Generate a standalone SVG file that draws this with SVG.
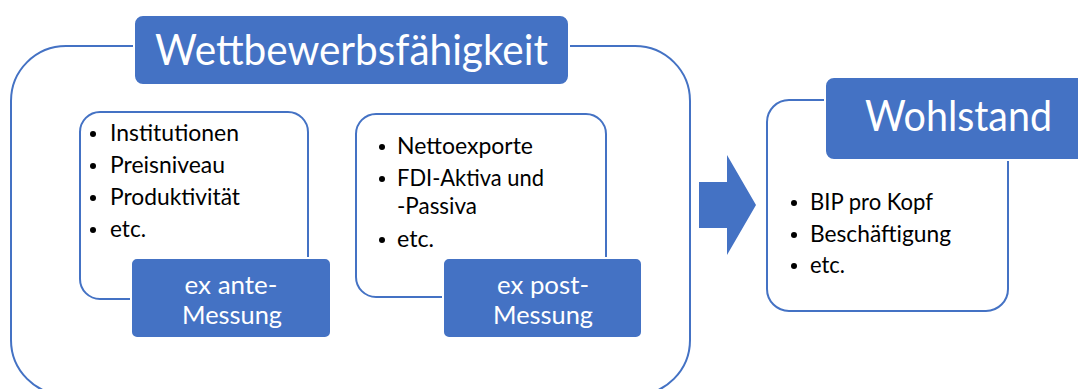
<svg xmlns="http://www.w3.org/2000/svg" width="1078" height="389" viewBox="0 0 1078 389">
<style>
.frame{fill:#fff;stroke:#4472C4;stroke-width:2}
.head{fill:#4472C4;stroke:#fff;stroke-width:2}
.ht{font-family:Lato,"Open Sans",sans-serif;fill:#fff;font-size:42px}
.lt{font-family:Lato,"Open Sans",sans-serif;fill:#fff;font-size:25px;text-anchor:middle}
.bt{font-family:Lato,"Open Sans",sans-serif;fill:#000;font-size:23px}
.dot{fill:#000}
</style>
<rect width="1078" height="389" fill="#fff"/>
<g id="wettbewerbsfaehigkeit">
<rect class="frame" x="11" y="46" width="679" height="349" rx="55"/>
<rect class="head" x="134" y="15" width="435" height="70" rx="9"/>
<text class="ht" x="155" y="65" textLength="393" lengthAdjust="spacingAndGlyphs">Wettbewerbsfähigkeit</text>
</g>
<g id="exante">
<rect class="frame" x="80" y="112" width="228" height="187" rx="20"/>
<circle class="dot" cx="93" cy="134" r="3"/>
<circle class="dot" cx="93" cy="166" r="3"/>
<circle class="dot" cx="93" cy="198" r="3"/>
<circle class="dot" cx="93" cy="230" r="3"/>
<text class="bt" x="110" y="141" textLength="129" lengthAdjust="spacingAndGlyphs">Institutionen</text>
<text class="bt" x="110" y="173" textLength="115" lengthAdjust="spacingAndGlyphs">Preisniveau</text>
<text class="bt" x="110" y="205" textLength="130" lengthAdjust="spacingAndGlyphs">Produktivität</text>
<text class="bt" x="110" y="237" textLength="36" lengthAdjust="spacingAndGlyphs">etc.</text>
<rect class="head" x="131" y="258" width="200" height="80" rx="6"/>
<text class="lt" x="231" y="294" textLength="93" lengthAdjust="spacingAndGlyphs">ex ante-</text>
<text class="lt" x="232" y="324" textLength="100" lengthAdjust="spacingAndGlyphs">Messung</text>
</g>
<g id="expost">
<rect class="frame" x="356" y="114" width="250" height="183" rx="20"/>
<circle class="dot" cx="382" cy="147" r="3"/>
<circle class="dot" cx="382" cy="179" r="3"/>
<circle class="dot" cx="382" cy="240" r="3"/>
<text class="bt" x="397" y="154" textLength="136" lengthAdjust="spacingAndGlyphs">Nettoexporte</text>
<text class="bt" x="397" y="186" textLength="147" lengthAdjust="spacingAndGlyphs">FDI-Aktiva und</text>
<text class="bt" x="397" y="214" textLength="80" lengthAdjust="spacingAndGlyphs">-Passiva</text>
<text class="bt" x="397" y="247" textLength="37" lengthAdjust="spacingAndGlyphs">etc.</text>
<rect class="head" x="443" y="258" width="199" height="80" rx="6"/>
<text class="lt" x="543" y="294" textLength="92" lengthAdjust="spacingAndGlyphs">ex post-</text>
<text class="lt" x="543" y="324" textLength="100" lengthAdjust="spacingAndGlyphs">Messung</text>
</g>
<g id="connectors">
<polygon points="699,182 727,182 727,155 756,205 727,255 727,228 699,228" fill="#4472C4"/>
</g>
<g id="wohlstand">
<rect class="frame" x="767" y="100" width="241" height="211" rx="22"/>
<rect class="head" x="825" y="77" width="270" height="83" rx="9"/>
<text class="ht" x="865" y="131" textLength="187" lengthAdjust="spacingAndGlyphs">Wohlstand</text>
<circle class="dot" cx="794" cy="203" r="3"/>
<circle class="dot" cx="794" cy="235" r="3"/>
<circle class="dot" cx="794" cy="266" r="3"/>
<text class="bt" x="810" y="210" textLength="123" lengthAdjust="spacingAndGlyphs">BIP pro Kopf</text>
<text class="bt" x="810" y="242" textLength="141" lengthAdjust="spacingAndGlyphs">Beschäftigung</text>
<text class="bt" x="810" y="273" textLength="35" lengthAdjust="spacingAndGlyphs">etc.</text>
</g>
</svg>
